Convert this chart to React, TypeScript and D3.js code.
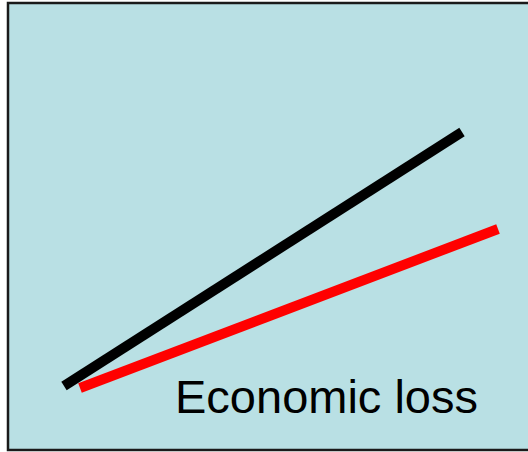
import React from "react";
import * as d3 from "d3";

// Two linear relationships drawn over a shaded panel
const seriesNames = ["total", "economic"];
const totalX = [11.2, 90.8];
const totalY = [16.5, 80];
const economicX = [14.4, 98];
const economicY = [16, 55.75];
const label = "Economic loss";

const W = 528;
const H = 452;

export default function App() {
  const x = d3.scaleLinear().domain([0, 104]).range([8, 528]);
  const y = d3.scaleLinear().domain([0, 112]).range([452, 4]);
  const line = d3
    .line<[number, number]>()
    .x((d) => x(d[0]))
    .y((d) => y(d[1]));

  const total = totalX.map((v, i) => [v, totalY[i]] as [number, number]);
  const economic = economicX.map((v, i) => [v, economicY[i]] as [number, number]);

  return (
    <svg
      width={W}
      height={H}
      style={{ position: "absolute", left: 0, top: 0 }}
    >
      <rect x={8} y={3} width={530} height={447} fill="#b9e0e4" stroke="#1a1a1a" strokeWidth={2.5} />
      <path d={line(total) ?? ""} data-series={seriesNames[0]} stroke="#000000" strokeWidth={10} fill="none" strokeLinecap="butt" />
      <path d={line(economic) ?? ""} data-series={seriesNames[1]} stroke="#ff0000" strokeWidth={10} fill="none" strokeLinecap="butt" />
      <text
        x={175}
        y={413}
        fontFamily="'Liberation Sans', Arial, sans-serif"
        fontSize={47}
        fill="#000"
      >
        {label}
      </text>
    </svg>
  );
}
